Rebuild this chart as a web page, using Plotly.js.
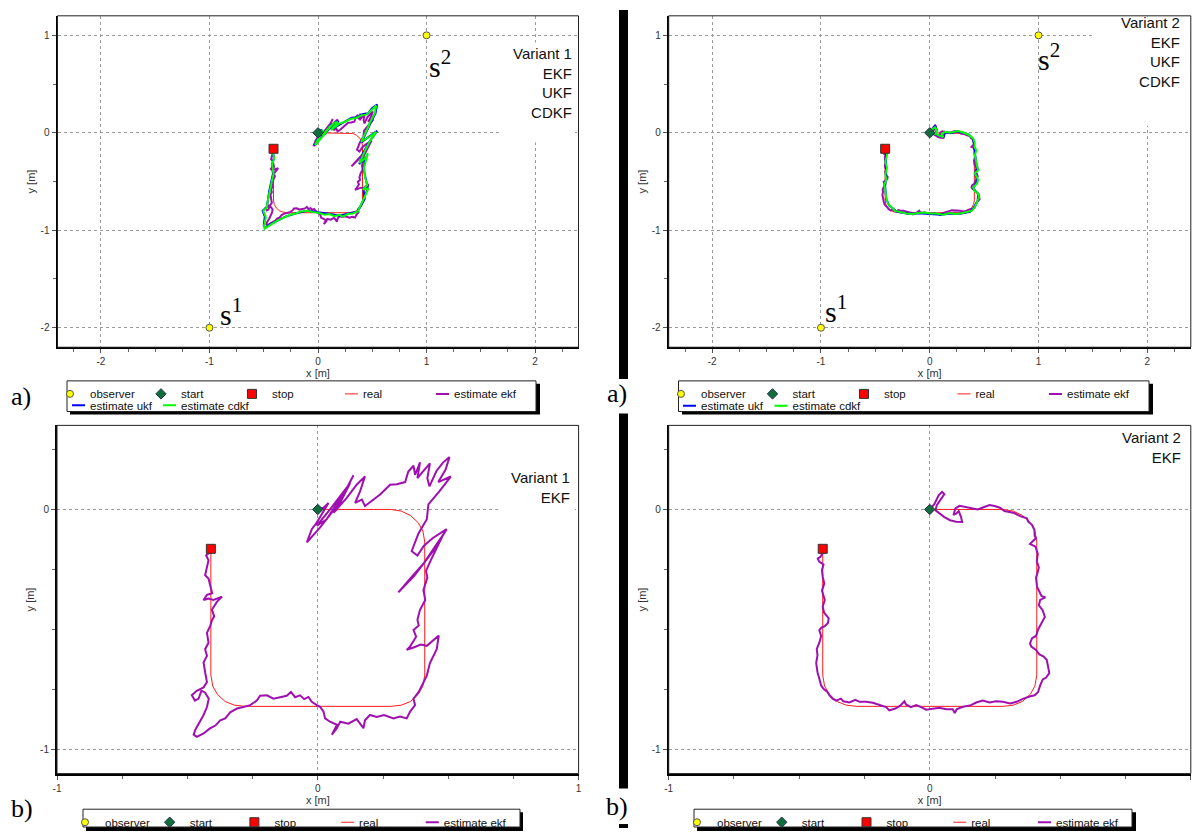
<!DOCTYPE html>
<html><head><meta charset="utf-8">
<script src="https://cdn.plot.ly/plotly-3.0.1.min.js"></script>
<style>html,body{margin:0;padding:0;background:#fff}#chart{width:1192px;height:837px}</style>
</head><body><div id="chart"></div>
<script>
// ---------------- data ----------------
const obsX = [-1, 1];
const obsY = [-2, 1];
const startX = [0];
const startY = [0];
const stopX = [-0.41];
const stopY = [-0.164];

const realPath = [[0,0],[0.28,0],[0.32,-0.007],[0.355,-0.025],[0.385,-0.055],[0.403,-0.09],[0.41,-0.135],[0.41,-0.69],[0.403,-0.735],[0.385,-0.77],[0.355,-0.80],[0.32,-0.815],[0.28,-0.82],[-0.28,-0.82],[-0.32,-0.815],[-0.355,-0.80],[-0.385,-0.77],[-0.403,-0.735],[-0.41,-0.69],[-0.41,-0.164]];

const ekfV1 = [[0,0],[0.022,0.007],[0.041,0.027],[-0.004,-0.055],[-0.023,-0.082],[-0.042,-0.137],[0.009,-0.075],[0.054,-0.014],[0.073,0.014],[0.105,0.075],[0.137,0.142],[0.111,0.089],[0.034,-0.041],[-0.004,-0.068],[0.047,0.000],[0.092,0.062],[0.124,0.110],[0.073,0.000],[0.060,-0.014],[0.111,0.048],[0.149,0.103],[0.181,0.137],[0.162,0.075],[0.143,0.027],[0.169,0.041],[0.181,0.014],[0.207,0.034],[0.239,0.062],[0.277,0.103],[0.303,0.105],[0.335,0.114],[0.347,0.158],[0.367,0.182],[0.373,0.144],[0.392,0.196],[0.382,0.130],[0.411,0.168],[0.430,0.192],[0.420,0.130],[0.428,0.096],[0.455,0.160],[0.480,0.195],[0.505,0.218],[0.490,0.166],[0.462,0.114],[0.510,0.137],[0.466,0.075],[0.424,0.021],[0.418,-0.041],[0.386,-0.100],[0.360,-0.174],[0.382,-0.192],[0.407,-0.151],[0.441,-0.119],[0.494,-0.082],[0.446,-0.168],[0.369,-0.278],[0.309,-0.345],[0.354,-0.288],[0.405,-0.226],[0.456,-0.144],[0.481,-0.105],[0.433,-0.212],[0.415,-0.256],[0.420,-0.284],[0.405,-0.336],[0.412,-0.377],[0.392,-0.418],[0.382,-0.459],[0.387,-0.483],[0.367,-0.502],[0.377,-0.530],[0.354,-0.571],[0.341,-0.585],[0.367,-0.575],[0.395,-0.563],[0.418,-0.568],[0.441,-0.548],[0.453,-0.534],[0.464,-0.525],[0.456,-0.582],[0.443,-0.612],[0.430,-0.640],[0.418,-0.692],[0.405,-0.722],[0.387,-0.760],[0.367,-0.788],[0.373,-0.815],[0.354,-0.842],[0.341,-0.870],[0.315,-0.862],[0.290,-0.870],[0.254,-0.856],[0.226,-0.864],[0.200,-0.856],[0.181,-0.878],[0.175,-0.911],[0.149,-0.873],[0.117,-0.892],[0.086,-0.884],[0.073,-0.911],[0.054,-0.938],[0.073,-0.897],[0.047,-0.884],[0.028,-0.870],[0.022,-0.842],[0.009,-0.822],[-0.004,-0.815],[-0.023,-0.801],[-0.036,-0.781],[-0.052,-0.790],[-0.068,-0.774],[-0.087,-0.782],[-0.103,-0.760],[-0.119,-0.776],[-0.144,-0.782],[-0.170,-0.788],[-0.195,-0.774],[-0.221,-0.776],[-0.234,-0.796],[-0.259,-0.815],[-0.285,-0.823],[-0.310,-0.829],[-0.336,-0.845],[-0.355,-0.870],[-0.374,-0.878],[-0.393,-0.900],[-0.415,-0.913],[-0.438,-0.933],[-0.464,-0.947],[-0.476,-0.938],[-0.469,-0.916],[-0.451,-0.884],[-0.438,-0.856],[-0.425,-0.823],[-0.418,-0.788],[-0.432,-0.763],[-0.446,-0.755],[-0.457,-0.788],[-0.471,-0.796],[-0.483,-0.774],[-0.464,-0.755],[-0.438,-0.741],[-0.425,-0.719],[-0.432,-0.678],[-0.438,-0.637],[-0.425,-0.610],[-0.432,-0.582],[-0.419,-0.555],[-0.425,-0.514],[-0.413,-0.486],[-0.405,-0.459],[-0.397,-0.445],[-0.406,-0.418],[-0.387,-0.385],[-0.367,-0.363],[-0.400,-0.377],[-0.419,-0.371],[-0.438,-0.377],[-0.425,-0.356],[-0.405,-0.349],[-0.413,-0.308],[-0.419,-0.288],[-0.432,-0.274],[-0.425,-0.240],[-0.419,-0.212],[-0.428,-0.192],[-0.415,-0.178],[-0.410,-0.164]];

const ukfV1 = [[0,0],[0.035,0.035],[-0.03,-0.13],[0.06,-0.01],[0.125,0.085],[0.05,-0.02],[0.16,0.11],[0.19,0.12],[0.125,0.035],[0.25,0.12],[0.31,0.155],[0.36,0.16],[0.41,0.19],[0.46,0.2],[0.5,0.255],[0.545,0.29],[0.53,0.2],[0.48,0.09],[0.4,-0.1],[0.48,-0.03],[0.545,0.02],[0.47,-0.1],[0.42,-0.2],[0.38,-0.32],[0.44,-0.25],[0.42,-0.37],[0.44,-0.47],[0.455,-0.55],[0.42,-0.59],[0.43,-0.68],[0.39,-0.76],[0.36,-0.81],[0.27,-0.83],[0.2,-0.85],[0.1,-0.83],[0.0,-0.815],[-0.1,-0.8],[-0.2,-0.825],[-0.3,-0.86],[-0.44,-0.94],[-0.49,-0.975],[-0.5,-0.95],[-0.49,-0.86],[-0.51,-0.8],[-0.47,-0.76],[-0.45,-0.6],[-0.43,-0.5],[-0.415,-0.42],[-0.425,-0.33],[-0.405,-0.26],[-0.415,-0.2],[-0.41,-0.164]];

const cdkfV1 = [[0,0],[0.043,0.027],[-0.028,-0.125],[0.059,-0.017],[0.120,0.078],[0.043,-0.024],[0.151,0.105],[0.182,0.111],[0.120,0.027],[0.198,0.095],[0.244,0.111],[0.306,0.145],[0.352,0.152],[0.398,0.179],[0.444,0.186],[0.475,0.213],[0.506,0.247],[0.537,0.280],[0.522,0.196],[0.475,0.095],[0.444,0.010],[0.398,-0.091],[0.475,-0.041],[0.537,0.010],[0.475,-0.091],[0.429,-0.193],[0.383,-0.311],[0.435,-0.260],[0.460,-0.209],[0.423,-0.361],[0.435,-0.463],[0.454,-0.537],[0.414,-0.581],[0.466,-0.571],[0.429,-0.666],[0.392,-0.750],[0.367,-0.807],[0.321,-0.828],[0.275,-0.834],[0.228,-0.861],[0.198,-0.841],[0.151,-0.855],[0.105,-0.834],[0.059,-0.841],[0.003,-0.821],[-0.049,-0.814],[-0.096,-0.801],[-0.157,-0.807],[-0.204,-0.828],[-0.256,-0.841],[-0.312,-0.868],[-0.373,-0.902],[-0.435,-0.943],[-0.491,-0.983],[-0.497,-0.953],[-0.481,-0.868],[-0.503,-0.801],[-0.472,-0.767],[-0.460,-0.682],[-0.441,-0.598],[-0.429,-0.514],[-0.410,-0.422],[-0.423,-0.328],[-0.404,-0.260],[-0.414,-0.209],[-0.410,-0.164]];

const ekfV2 = [[0,0],[0.018,0.023],[0.034,0.059],[0.047,0.073],[0.056,0.064],[0.043,0.041],[0.027,0.018],[0.022,-0.004],[0.037,-0.018],[0.056,-0.032],[0.078,-0.045],[0.101,-0.051],[0.124,-0.052],[0.120,-0.032],[0.111,-0.007],[0.101,-0.018],[0.091,-0.023],[0.098,0.004],[0.114,0.015],[0.137,0.010],[0.158,0.007],[0.184,0.000],[0.201,0.007],[0.229,0.018],[0.248,0.014],[0.269,0.007],[0.286,-0.007],[0.303,-0.010],[0.324,-0.015],[0.344,-0.027],[0.359,-0.034],[0.372,-0.037],[0.377,-0.051],[0.392,-0.064],[0.401,-0.086],[0.402,-0.110],[0.407,-0.119],[0.395,-0.130],[0.384,-0.144],[0.405,-0.155],[0.414,-0.185],[0.410,-0.215],[0.418,-0.242],[0.413,-0.264],[0.407,-0.284],[0.411,-0.322],[0.420,-0.344],[0.428,-0.360],[0.443,-0.366],[0.423,-0.377],[0.418,-0.399],[0.433,-0.421],[0.441,-0.448],[0.428,-0.475],[0.415,-0.500],[0.407,-0.527],[0.392,-0.536],[0.384,-0.558],[0.389,-0.571],[0.407,-0.585],[0.420,-0.604],[0.435,-0.612],[0.448,-0.626],[0.453,-0.653],[0.458,-0.681],[0.446,-0.700],[0.433,-0.708],[0.423,-0.733],[0.415,-0.760],[0.402,-0.774],[0.382,-0.779],[0.359,-0.788],[0.333,-0.801],[0.308,-0.808],[0.280,-0.801],[0.254,-0.799],[0.229,-0.804],[0.203,-0.796],[0.178,-0.804],[0.158,-0.815],[0.139,-0.818],[0.124,-0.823],[0.103,-0.832],[0.096,-0.848],[0.088,-0.832],[0.063,-0.832],[0.037,-0.826],[0.011,-0.829],[-0.014,-0.834],[-0.033,-0.823],[-0.052,-0.815],[-0.072,-0.823],[-0.091,-0.812],[-0.097,-0.799],[-0.106,-0.807],[-0.114,-0.818],[-0.132,-0.829],[-0.155,-0.837],[-0.167,-0.823],[-0.193,-0.815],[-0.218,-0.805],[-0.244,-0.801],[-0.269,-0.801],[-0.285,-0.793],[-0.308,-0.804],[-0.331,-0.799],[-0.340,-0.788],[-0.359,-0.796],[-0.372,-0.788],[-0.384,-0.774],[-0.392,-0.760],[-0.407,-0.747],[-0.416,-0.733],[-0.423,-0.705],[-0.430,-0.678],[-0.435,-0.640],[-0.430,-0.607],[-0.433,-0.582],[-0.423,-0.555],[-0.416,-0.527],[-0.423,-0.503],[-0.415,-0.492],[-0.402,-0.486],[-0.390,-0.473],[-0.387,-0.453],[-0.397,-0.440],[-0.405,-0.429],[-0.410,-0.404],[-0.402,-0.377],[-0.413,-0.338],[-0.404,-0.308],[-0.410,-0.281],[-0.413,-0.253],[-0.407,-0.229],[-0.423,-0.218],[-0.429,-0.205],[-0.418,-0.196],[-0.410,-0.182],[-0.406,-0.171],[-0.410,-0.164]];

const ukfV2 = [[0,0],[0.03,0.05],[0.05,0.07],[0.065,0.03],[0.05,-0.015],[0.1,-0.035],[0.13,-0.04],[0.14,0.005],[0.19,-0.005],[0.26,0.012],[0.31,0.0],[0.36,-0.02],[0.4,-0.065],[0.41,-0.15],[0.425,-0.3],[0.44,-0.37],[0.415,-0.42],[0.44,-0.49],[0.4,-0.57],[0.445,-0.63],[0.44,-0.7],[0.40,-0.78],[0.37,-0.81],[0.28,-0.83],[0.18,-0.83],[0.1,-0.84],[0.0,-0.83],[-0.1,-0.825],[-0.2,-0.83],[-0.3,-0.81],[-0.37,-0.75],[-0.4,-0.68],[-0.41,-0.55],[-0.4,-0.45],[-0.405,-0.3],[-0.4,-0.2],[-0.41,-0.164]];

const cdkfV2 = [[0,0],[0.025,0.037],[0.049,0.057],[0.068,0.024],[0.049,-0.010],[0.092,-0.030],[0.123,-0.044],[0.110,-0.010],[0.141,0.010],[0.184,0.000],[0.230,0.010],[0.264,0.017],[0.307,0.003],[0.353,-0.017],[0.399,-0.057],[0.414,-0.098],[0.411,-0.145],[0.430,-0.179],[0.414,-0.226],[0.424,-0.294],[0.439,-0.361],[0.448,-0.382],[0.414,-0.416],[0.430,-0.449],[0.445,-0.483],[0.436,-0.517],[0.399,-0.564],[0.414,-0.598],[0.445,-0.625],[0.451,-0.665],[0.430,-0.716],[0.414,-0.767],[0.384,-0.801],[0.338,-0.814],[0.282,-0.828],[0.230,-0.834],[0.184,-0.824],[0.123,-0.841],[0.061,-0.828],[0.000,-0.828],[-0.046,-0.817],[-0.107,-0.824],[-0.153,-0.834],[-0.215,-0.828],[-0.270,-0.811],[-0.319,-0.801],[-0.350,-0.767],[-0.381,-0.733],[-0.399,-0.672],[-0.405,-0.598],[-0.417,-0.530],[-0.399,-0.480],[-0.408,-0.429],[-0.393,-0.361],[-0.408,-0.294],[-0.393,-0.226],[-0.399,-0.176],[-0.410,-0.164]];

// tick labels
const xTicksA = [-2, -1, 0, 1, 2];
const xTickTextA = ['-2', '-1', '0', '1', '2'];
const yTicksA = [-2, -1, 0, 1];
const yTickTextA = ['-2', '-1', '0', '1'];
const xTicksB = [-1, 0, 1];
const xTickTextB = ['-1', '0', '1'];
const yTicksB = [-1, 0];
const yTickTextB = ['-1', '0'];

const seriesNames = ['observer', 'start', 'stop', 'real', 'estimate ekf', 'estimate ukf', 'estimate cdkf'];
const panelTexts = ['Variant 1<br>EKF<br>UKF<br>CDKF', 'Variant 2<br>EKF<br>UKF<br>CDKF', 'Variant 1<br>EKF', 'Variant 2<br>EKF'];

// ---------------- layout helpers ----------------
const W = 1192, H = 837;
const SANS = 'Liberation Sans, Arial, sans-serif';
const SERIF = 'Liberation Serif, Times New Roman, serif';
const px = v => v / W;
const py = v => 1 - v / H;

const C = {
  real: '#ff1a1a', ekf: '#a010b0', ukf: '#0000ff', cdkf: '#00ff00',
  obs: '#ffff00', start: '#0f6e3c', stop: '#ff0000'
};

function xs(p) { return p.map(d => d[0]); }
function ys(p) { return p.map(d => d[1]); }

function xAxis(d0, d1, range, vals, text, minorDt, anchor) {
  return {
    domain: [px(d0), px(d1)], range: range, autorange: false, anchor: anchor,
    tickmode: 'array', tickvals: vals, ticktext: text,
    ticks: 'outside', ticklen: 4, tickwidth: 1, tickcolor: '#555',
    minor: {tick0: 0, dtick: minorDt, ticks: 'outside', ticklen: 3, tickwidth: 1, tickcolor: '#666', showgrid: false},
    showline: true, linecolor: '#000', linewidth: 2, mirror: false,
    showgrid: true, gridcolor: '#9a9a9a', gridwidth: 1, griddash: '3px,3px',
    zeroline: false,
    tickfont: {family: SANS, size: 10, color: '#333'},
    title: {text: 'x [m]', font: {family: SANS, size: 11, color: '#333'}, standoff: 3},
    fixedrange: true
  };
}
function yAxis(d0, d1, range, vals, text, minorDt, anchor) {
  return {
    domain: [py(d1), py(d0)], range: range, autorange: false, anchor: anchor,
    tickmode: 'array', tickvals: vals, ticktext: text,
    ticks: 'outside', ticklen: 4, tickwidth: 1, tickcolor: '#555',
    minor: {tick0: 0, dtick: minorDt, ticks: 'outside', ticklen: 3, tickwidth: 1, tickcolor: '#666', showgrid: false},
    showline: true, linecolor: '#000', linewidth: 2, mirror: false,
    showgrid: true, gridcolor: '#9a9a9a', gridwidth: 1, griddash: '3px,3px',
    zeroline: false,
    tickfont: {family: SANS, size: 10, color: '#333'},
    title: {text: 'y [m]', font: {family: SANS, size: 11, color: '#333'}, standoff: 3},
    fixedrange: true
  };
}

// data line (drawn in the plot, legend entry supplied by a short-sample proxy)
function lineTrace(path, name, color, width, xa, ya) {
  return {type: 'scatter', mode: 'lines', x: xs(path), y: ys(path), name: name,
    line: {color: color, width: width}, xaxis: xa, yaxis: ya, showlegend: false, hoverinfo: 'skip'};
}
// legend entry with a short line sample just before the label, as in the reference
function legendLine(name, color, width, xa, ya, leg, rank, legW) {
  const t = {type: 'scatter', mode: 'lines', x: [null], y: [null], name: name,
    line: {color: color, width: width, dash: '0px,17px,14px,60px'}, xaxis: xa, yaxis: ya,
    legend: leg, legendrank: rank, showlegend: true, hoverinfo: 'skip'};
  if (legW) t.legendwidth = legW;
  return t;
}
function markerTraces(xa, ya, leg) {
  return [
    {type: 'scatter', mode: 'markers', x: obsX, y: obsY, name: seriesNames[0], xaxis: xa, yaxis: ya, legend: leg, legendrank: 1,
      marker: {symbol: 'circle', size: 7, color: C.obs, line: {color: '#555', width: 1}}, hoverinfo: 'skip'},
    {type: 'scatter', mode: 'markers', x: startX, y: startY, name: seriesNames[1], xaxis: xa, yaxis: ya, legend: leg, legendrank: 2,
      marker: {symbol: 'diamond', size: 8, color: C.start, line: {color: '#234', width: 1}}, hoverinfo: 'skip'},
    {type: 'scatter', mode: 'markers', x: stopX, y: stopY, name: seriesNames[2], xaxis: xa, yaxis: ya, legend: leg, legendrank: 3,
      marker: {symbol: 'square', size: 9, color: C.stop, line: {color: '#333', width: 1}}, hoverinfo: 'skip'}
  ];
}

const traces = [];
// TL: variant 1, all filters
traces.push(lineTrace(realPath, seriesNames[3], C.real, 1, 'x', 'y'));
traces.push(lineTrace(ekfV1, seriesNames[4], C.ekf, 2, 'x', 'y'));
traces.push(lineTrace(ukfV1, seriesNames[5], C.ukf, 2, 'x', 'y'));
traces.push(lineTrace(cdkfV1, seriesNames[6], C.cdkf, 2, 'x', 'y'));
traces.push(...markerTraces('x', 'y', 'legend'));
traces.push(legendLine(seriesNames[3], C.real, 1, 'x', 'y', 'legend', 4));
traces.push(legendLine(seriesNames[4], C.ekf, 2, 'x', 'y', 'legend', 5, 90));
traces.push(legendLine(seriesNames[5], C.ukf, 2, 'x', 'y', 'legend2', 6));
traces.push(legendLine(seriesNames[6], C.cdkf, 2, 'x', 'y', 'legend2', 7, 90));
// TR: variant 2, all filters
traces.push(lineTrace(realPath, seriesNames[3], C.real, 1, 'x2', 'y2'));
traces.push(lineTrace(ekfV2, seriesNames[4], C.ekf, 2, 'x2', 'y2'));
traces.push(lineTrace(ukfV2, seriesNames[5], C.ukf, 2, 'x2', 'y2'));
traces.push(lineTrace(cdkfV2, seriesNames[6], C.cdkf, 2, 'x2', 'y2'));
traces.push(...markerTraces('x2', 'y2', 'legend3'));
traces.push(legendLine(seriesNames[3], C.real, 1, 'x2', 'y2', 'legend3', 4));
traces.push(legendLine(seriesNames[4], C.ekf, 2, 'x2', 'y2', 'legend3', 5, 90));
traces.push(legendLine(seriesNames[5], C.ukf, 2, 'x2', 'y2', 'legend4', 6));
traces.push(legendLine(seriesNames[6], C.cdkf, 2, 'x2', 'y2', 'legend4', 7, 90));
// BL: variant 1, EKF
traces.push(lineTrace(realPath, seriesNames[3], C.real, 1, 'x3', 'y3'));
traces.push(lineTrace(ekfV1, seriesNames[4], C.ekf, 2, 'x3', 'y3'));
traces.push(...markerTraces('x3', 'y3', 'legend5'));
traces.push(legendLine(seriesNames[3], C.real, 1, 'x3', 'y3', 'legend5', 4));
traces.push(legendLine(seriesNames[4], C.ekf, 2, 'x3', 'y3', 'legend5', 5, 90));
// BR: variant 2, EKF
traces.push(lineTrace(realPath, seriesNames[3], C.real, 1, 'x4', 'y4'));
traces.push(lineTrace(ekfV2, seriesNames[4], C.ekf, 2, 'x4', 'y4'));
traces.push(...markerTraces('x4', 'y4', 'legend6'));
traces.push(legendLine(seriesNames[3], C.real, 1, 'x4', 'y4', 'legend6', 4));
traces.push(legendLine(seriesNames[4], C.ekf, 2, 'x4', 'y4', 'legend6', 5, 90));

function legendAt(textX, centerY, ew) {
  return {orientation: 'h', x: px(textX - 40), xanchor: 'left', y: py(centerY - 11.5), yanchor: 'top',
    bgcolor: 'rgba(0,0,0,0)', borderwidth: 0, entrywidth: ew, entrywidthmode: 'pixels',
    font: {family: SANS, size: 11.5, color: '#111'}, traceorder: 'normal', tracegroupgap: 0,
    itemclick: false, itemdoubleclick: false};
}

function rectPx(x0, y0, x1, y1, fill, line, lw) {
  return {type: 'rect', xref: 'paper', yref: 'paper', x0: px(x0), x1: px(x1), y0: py(y1), y1: py(y0),
    fillcolor: fill, line: {color: line || 'rgba(0,0,0,0)', width: lw || 0}, layer: 'above'};
}
function frame(xa, ya) {
  return {type: 'rect', xref: xa + ' domain', yref: ya + ' domain', x0: 0, x1: 1, y0: 0, y1: 1,
    fillcolor: 'rgba(0,0,0,0)', line: {color: '#222', width: 1}, layer: 'above'};
}

const shapes = [
  // white label boxes that hide the grid
  rectPx(502, 43, 575, 144, '#fff'),
  rectPx(1095, 17, 1189, 127, '#fff'),
  rectPx(499, 462, 575, 519, '#fff'),
  // frames
  frame('x', 'y'), frame('x2', 'y2'), frame('x3', 'y3'), frame('x4', 'y4'),
  // legend shadows and boxes
  rectPx(70, 388, 540, 419, '#000'), rectPx(67, 385, 536, 416, '#fff', '#222', 1),
  rectPx(682, 388, 1153, 419, '#000'), rectPx(678.5, 385, 1149, 416, '#fff', '#222', 1),
  rectPx(86, 821, 523, 840, '#000'), rectPx(83, 818, 520, 836, '#fff', '#222', 1),
  rectPx(697, 821, 1136, 840, '#000'), rectPx(694, 818, 1132, 836, '#fff', '#222', 1),
  // black separator bars
  rectPx(619, 10, 628, 383, '#000'),
  rectPx(619, 418, 628, 797, '#000'),
  rectPx(619, 833, 628, 837, '#000')
];

function note(text, x, y, size, xanchor, align) {
  return {text: text, xref: 'paper', yref: 'paper', x: px(x), y: py(y), xanchor: xanchor, yanchor: 'middle',
    align: align || 'right', showarrow: false, font: {family: SANS, size: size, color: '#111'}};
}
function sLabel(text, xa, ya, x, y) {
  return {text: text, xref: xa, yref: ya, x: x, y: y, xanchor: 'left', yanchor: 'bottom', showarrow: false,
    font: {family: SERIF, size: 30, color: '#000'}};
}
function partLabel(text, x, y) {
  return {text: text, xref: 'paper', yref: 'paper', x: px(x), y: py(y), xanchor: 'center', yanchor: 'middle',
    showarrow: false, font: {family: SERIF, size: 26, color: '#000'}};
}

const annotations = [
  note(panelTexts[0], 574, 83.5, 15, 'right'),
  note(panelTexts[1], 1182, 52.5, 15, 'right'),
  note(panelTexts[2], 572, 493, 15, 'right'),
  note(panelTexts[3], 1183, 452.5, 15, 'right'),
  sLabel('s<sup>2</sup>', 'x', 'y', 1.005, 0.49),
  sLabel('s<sup>1</sup>', 'x', 'y', -0.92, -2.05),
  sLabel('s<sup>2</sup>', 'x2', 'y2', 0.977, 0.56),
  sLabel('s<sup>1</sup>', 'x2', 'y2', -0.984, -2.02),
  partLabel('a)', 21, 401),
  partLabel('a)', 617, 398),
  partLabel('b)', 21.5, 817),
  partLabel('b)', 617, 815)
];

const layout = {
  width: W, height: H,
  margin: {l: 0, r: 0, t: 0, b: 0, pad: 0},
  paper_bgcolor: '#fff', plot_bgcolor: '#fff',
  font: {family: SANS, color: '#222'},
  showlegend: true,
  xaxis: xAxis(57.5, 578.5, [-2.4, 2.4], xTicksA, xTickTextA, 0.25, 'y'),
  yaxis: yAxis(16, 351, [-2.2, 1.2], yTicksA, yTickTextA, 0.5, 'x'),
  xaxis2: xAxis(668.7, 1190.8, [-2.4, 2.4], xTicksA, xTickTextA, 0.25, 'y2'),
  yaxis2: yAxis(16, 351, [-2.2, 1.2], yTicksA, yTickTextA, 0.5, 'x2'),
  xaxis3: xAxis(57, 578.6, [-1, 1], xTicksB, xTickTextB, 0.25, 'y3'),
  yaxis3: yAxis(430, 782, [-1.1, 0.35], yTicksB, yTickTextB, 0.25, 'x3'),
  xaxis4: xAxis(668.7, 1190.8, [-1, 1], xTicksB, xTickTextB, 0.25, 'y4'),
  yaxis4: yAxis(430, 782, [-1.1, 0.35], yTicksB, yTickTextB, 0.25, 'x4'),
  legend: legendAt(90, 395, 46),
  legend2: legendAt(90, 406.5, 46),
  legend3: legendAt(701, 395, 46.5),
  legend4: legendAt(701, 407, 46.5),
  legend5: legendAt(105, 828, 39.7),
  legend6: legendAt(717, 828, 39.75),
  shapes: shapes,
  annotations: annotations
};

Plotly.newPlot('chart', traces, layout, {displayModeBar: false, staticPlot: true});
</script>
</body></html>
